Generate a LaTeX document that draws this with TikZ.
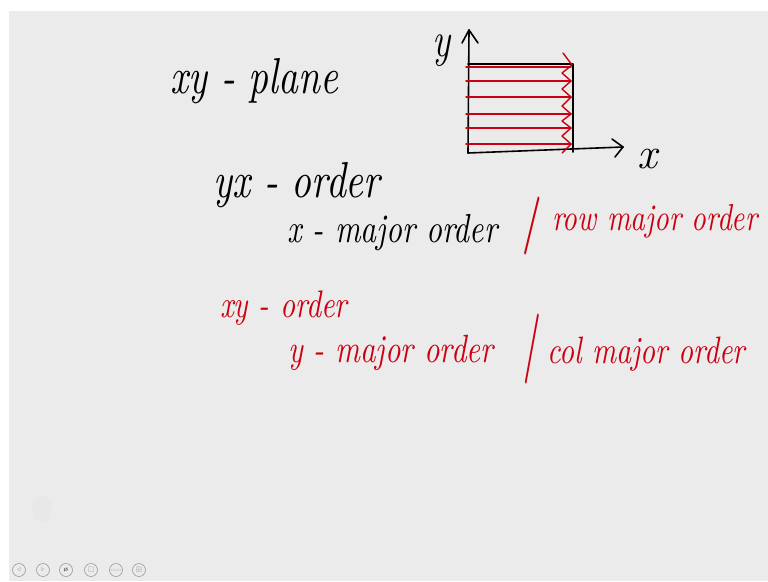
\documentclass[tikz,border=0pt]{standalone}
\usepackage{graphicx}
\usepackage{amssymb}
\definecolor{slidebg}{HTML}{EBEBEB}
\definecolor{inkred}{HTML}{CC0011}
\definecolor{iconcol}{HTML}{9A9A9A}
\newcommand{\fitw}[2]{\resizebox{#1pt}{!}{\scalebox{1}[1.3]{\itshape #2}}}
\begin{document}
\begin{tikzpicture}[x=1pt,y=-1pt,
  ink/.style={line width=1.6pt,line cap=round,line join=round},
  redink/.style={ink,draw=inkred,line width=1.4pt},
  hw/.style={inner sep=0pt,anchor=base west},
  hwred/.style={hw,text=inkred},
  icon/.style={circle,draw=iconcol,line width=0.6pt,minimum size=13pt,inner sep=0pt,text=iconcol,font=\fontsize{7}{7}\selectfont}]
\useasboundingbox (0,0) rectangle (768,581);
\fill[white] (0,0) rectangle (768,581);
\fill[slidebg] (9,11) rectangle (768,581);
% faint circle
\fill[gray!18] (42,509) ellipse [x radius=10, y radius=13];
% title
\node[hw] (title) at (170,93) {\fitw{168}{xy - plane}};
% axes
\coordinate (O) at (468,153);
\coordinate (Ytop) at (469,30);
\coordinate (Xend) at (623,147);
\coordinate (TL) at (468,64);
\coordinate (TR) at (573,64);
\coordinate (BR) at (573,152);
\draw[ink] (O) -- (Ytop);
\draw[ink] (462,43) -- (Ytop) -- (478,43);
\draw[ink] (O) -- (Xend);
\draw[ink] (612,139) -- (Xend) -- (615,157);
\draw[ink] (TL) -- (TR) -- (BR);
\node[hw] (ylab) at (432,56) {\scalebox{1}[1.3]{\fontsize{38}{40}\selectfont\itshape y}};
\node[hw] (xlab) at (637,168) {\fontsize{44}{46}\selectfont\itshape x};
% red row lines
\foreach \yy in {67,81,97,114,128,144}{
  \draw[redink] (466,\yy) -- (571,\yy);
}
\draw[redink] (563,53) -- (572,65) -- (562,73) -- (571,81) -- (562,89) -- (571,97)
  -- (562,106) -- (571,114) -- (562,121) -- (571,128) -- (562,136) -- (571,144) -- (562,153);
% texts
\node[hw] (yxorder) at (213,197) {\fitw{167}{yx - order}};
\node[hw] (xmajor) at (287,242) {\fitw{210}{x - major order}};
\node[hwred] (slash1) at (522,240) {\scalebox{0.6}[1]{\fontsize{58}{60}\selectfont\bfseries /}};
\node[hwred] (rowmajor) at (552,230) {\fitw{205}{row major order}};
\node[hwred] (xyorder) at (220,317) {\fitw{127}{xy - order}};
\node[hwred] (ymajor) at (288,362) {\fitw{205}{y - major order}};
\node[hwred] (slash2) at (523,366) {\scalebox{0.45}[1]{\fontsize{70}{72}\selectfont\bfseries /}};
\node[hwred] (colmajor) at (547,363) {\fitw{198}{col major order}};
% toolbar icons
\node[icon] (i1) at (19,570) {$\triangleleft$};
\node[icon] (i2) at (43,570) {$\triangleright$};
\node[icon,text=black!70] (i3) at (66,570) {\textbf{\o}};
\node[icon] (i4) at (91,570) {$\square$};
\node[icon] (i5) at (116,570) {\fontsize{5}{5}\selectfont ooo};
\node[icon] (i6) at (139,570) {$\boxplus$};
\end{tikzpicture}
\end{document}
